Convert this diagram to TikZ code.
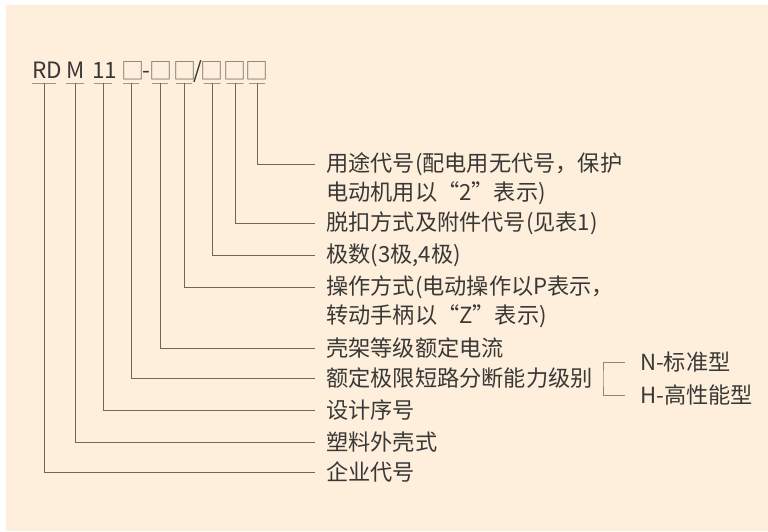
\documentclass[tikz,border=0pt]{standalone}
\usepackage{fontspec}
\setmainfont{Noto Sans CJK SC}
\usetikzlibrary{positioning}
\definecolor{bg}{RGB}{253,239,220}
\definecolor{ink}{RGB}{58,56,54}
\definecolor{rule}{RGB}{110,103,96}
\definecolor{brk}{RGB}{140,134,128}
\definecolor{boxgray}{RGB}{125,120,115}
\newcommand{\slot}{\makebox[15pt]{□}}

\begin{document}
\begin{tikzpicture}[x=1pt,y=-1pt]
  \tikzset{ hd/.style={anchor=base west,inner sep=0pt,ink,font=\fontsize{22.5}{22}\selectfont},
    bx/.style={anchor=base,inner sep=0pt,boxgray,font=\fontsize{23}{23}\selectfont},
    tk/.style={draw=rule,line width=1pt,inner sep=0pt,minimum height=0pt},
    lb/.style={anchor=west,inner xsep=11pt,inner ysep=0pt,ink,font=\fontsize{22.2}{22}\selectfont},
    ln/.style={draw=rule,line width=1pt},
  }
  \useasboundingbox (0,0) rectangle (768,531);
  \fill[bg] (6,5) rectangle (768,531);

  % model code
  \node[hd] (rd) at (32,78) {RD};
  \node[hd] (m)  at (66,78) {M};
  \node[hd] (n11) at (92,78) {11};
  \node[bx] (b1) at (133,79) {\slot};
  \node[hd] (d1) at (142,78) {-};
  \node[bx] (b2) at (161,79) {\slot};
  \node[bx] (b3) at (185,79) {\slot};
  \node[hd] (s1) at (193,78) {/};
  \node[bx] (b4) at (212,79) {\slot};
  \node[bx] (b5) at (235,79) {\slot};
  \node[bx] (b6) at (257,79) {\slot};

  % underlines
  \foreach \n/\x/\w in {1/44/24, 2/75/18, 3/103/18, 4/131/16, 5/160/16, 6/184/16, 7/212/17, 8/235/17, 9/257/16}
    \node[tk,minimum width=\w pt] (t\n) at (\x,83) {};

  % meanings
  \node[lb] (l1)  at (315,164) {用途代号(配电用无代号，保护};
  \node[lb] (l1b) at (315,193) {电动机用以“2”表示)};
  \node[lb] (l2)  at (315,223) {脱扣方式及附件代号(见表1)};
  \node[lb] (l3)  at (315,255) {极数(3极,4极)};
  \node[lb] (l4)  at (315,287) {操作方式(电动操作以P表示，};
  \node[lb] (l4b) at (315,316) {转动手柄以“Z”表示)};
  \node[lb] (l5)  at (315,348) {壳架等级额定电流};
  \node[lb] (l6)  at (315,378) {额定极限短路分断能力级别};
  \node[lb] (l7)  at (315,410) {设计序号};
  \node[lb] (l8)  at (315,442) {塑料外壳式};
  \node[lb] (l9)  at (315,472) {企业代号};

  \draw[ln] (t9.center) |- (l1.west);
  \draw[ln] (t8.center) |- (l2.west);
  \draw[ln] (t7.center) |- (l3.west);
  \draw[ln] (t6.center) |- (l4.west);
  \draw[ln] (t5.center) |- (l5.west);
  \draw[ln] (t4.center) |- (l6.west);
  \draw[ln] (t3.center) |- (l7.west);
  \draw[ln] (t2.center) |- (l8.west);
  \draw[ln] (t1.center) |- (l9.west);

  % breaking capacity grades
  \node[lb,inner xsep=15pt] (nn) at (625,362) {N-标准型};
  \node[lb,inner xsep=15pt] (hh) at (625,395) {H-高性能型};
  \coordinate (bk) at (603,378);
  \draw[brk,line width=0.8pt] (nn.west) -| (bk) |- (hh.west);
\end{tikzpicture}
\end{document}
